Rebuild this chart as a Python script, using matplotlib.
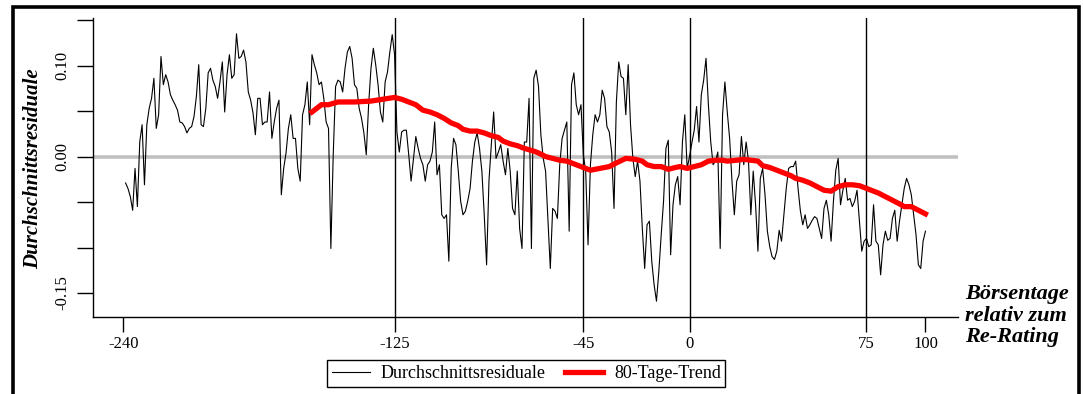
import numpy as np
import matplotlib
matplotlib.use("Agg")
import matplotlib.pyplot as plt
from matplotlib.patches import Rectangle

plt.rcParams['font.family'] = ['Liberation Serif', 'DejaVu Serif']

# Durchschnittsresiduale, ein Wert pro Börsentag (ab Tag -239)
start_day = -239
resid = [
    -0.029, -0.035, -0.044, -0.059, -0.013, -0.055, 0.016, 0.035, -0.031, 0.035,
    0.053, 0.064, 0.086, 0.031, 0.046, 0.110, 0.079, 0.090, 0.082, 0.068,
    0.062, 0.057, 0.051, 0.038, 0.037, 0.033, 0.026, 0.031, 0.033, 0.044,
    0.066, 0.101, 0.035, 0.033, 0.053, 0.092, 0.097, 0.084, 0.077, 0.064,
    0.082, 0.104, 0.049, 0.090, 0.112, 0.086, 0.090, 0.135, 0.108, 0.110,
    0.117, 0.104, 0.071, 0.062, 0.048, 0.024, 0.064, 0.064, 0.035, 0.038,
    0.038, 0.071, 0.020, 0.038, 0.053, 0.062, -0.042, -0.013, 0.004, 0.031,
    0.046, 0.020, 0.020, -0.013, -0.027, 0.046, 0.057, 0.082, 0.035, 0.112,
    0.101, 0.092, 0.079, 0.082,
    0.064, 0.038, 0.031, -0.101, 0.002, 0.077, 0.084, 0.082, 0.071, 0.097,
    0.115, 0.121, 0.108, 0.079, 0.075, 0.053, 0.042, 0.026, 0.002, 0.057,
    0.097, 0.119, 0.101, 0.079, 0.049, 0.038, 0.082, 0.093, 0.115, 0.134,
    0.112, 0.027, 0.005, 0.027, 0.029, 0.029, 0.002, -0.027, -0.002, 0.022,
    0.009, -0.002, -0.009,
    -0.027, -0.009, -0.005, 0.005, 0.038, -0.020, -0.009, -0.064, -0.068, -0.064,
    -0.115, -0.013, 0.020, 0.013, -0.016, -0.049, -0.064, -0.060, -0.049, -0.035,
    -0.005, 0.016, 0.026, 0.009, -0.016, -0.064, -0.119, -0.027, 0.013, 0.049,
    -0.002, 0.005, 0.013, -0.005, -0.020, 0.009, -0.016, -0.057, -0.064, -0.016,
    -0.079, -0.101, 0.016,
    0.016, 0.064, -0.101, 0.086, 0.095, 0.077, 0.024, -0.002, -0.016, -0.070,
    -0.123, -0.057, -0.060, -0.068, -0.009, 0.020, 0.029, 0.038, -0.082, 0.079,
    0.092, 0.057, 0.046, 0.057, 0.002, -0.016, -0.097, -0.009, 0.024, 0.046,
    0.038, 0.046, 0.073, 0.064, 0.033, 0.027, 0.005, -0.057, 0.060, 0.104,
    0.088, 0.086, 0.046,
    0.101, 0.035, -0.002, -0.022, -0.005, -0.027, -0.079, -0.123, -0.075, -0.071,
    -0.115, -0.141, -0.159, -0.126, -0.086, -0.049, 0.009, 0.018, -0.108, -0.053,
    -0.031, -0.022, -0.053, 0.016, 0.046, -0.013, 0.000, 0.015, 0.029, 0.055,
    0.016, 0.068, 0.084, 0.108, 0.057, 0.016, -0.009, -0.005, 0.005, -0.101,
    0.046, 0.082, 0.049,
    0.020, -0.027, -0.064, -0.027, -0.020, 0.022, -0.009, 0.016, -0.005, -0.064,
    -0.016, -0.053, -0.104, -0.024, -0.013, -0.042, -0.082, -0.099, -0.110, -0.113,
    -0.104, -0.081, -0.093, -0.064, -0.035, -0.013, -0.011, -0.011, -0.005, -0.035,
    -0.060, -0.075, -0.064, -0.079, -0.075, -0.070, -0.066, -0.068, -0.079, -0.090,
    -0.057, -0.048, -0.064, -0.093,
    -0.049, -0.015, -0.002, -0.053, -0.037, -0.024, -0.048, -0.046, -0.055, -0.049,
    -0.037, -0.071, -0.104, -0.093, -0.090, -0.099, -0.097, -0.053, -0.093, -0.097,
    -0.130, -0.097, -0.082, -0.092, -0.090, -0.068, -0.059, -0.093, -0.071, -0.053,
    -0.035, -0.024, -0.031, -0.042, -0.064, -0.086, -0.119, -0.123, -0.093, -0.082,
]
days = np.arange(start_day, start_day + len(resid))

# 80-Tage-Trend
trend_days = [-160, -156, -153, -149, -142, -135, -130, -125, -122, -119,
              -116, -113, -110, -107, -104, -101, -98, -96, -93, -90,
              -87, -84, -81, -79, -76, -73, -70, -66, -64, -61,
              -58, -55, -52, -50, -47, -44, -42, -38, -34, -31,
              -27, -23, -20, -18, -15, -12, -9, -6, -4, -1,
              2, 5, 8, 11, 14, 16, 20, 23, 26, 29,
              31, 34, 37, 40, 43, 45, 48, 51, 54, 57,
              60, 63, 66, 69, 72, 75, 77, 80, 83, 86,
              89, 91, 94, 97, 100]
trend_vals = [0.049, 0.057, 0.057, 0.060, 0.060, 0.061, 0.063, 0.065, 0.063, 0.060,
              0.057, 0.051, 0.049, 0.046, 0.042, 0.037, 0.034, 0.030, 0.028, 0.028,
              0.026, 0.023, 0.021, 0.017, 0.014, 0.012, 0.009, 0.006, 0.004, 0.000,
              -0.002, -0.004, -0.005, -0.007, -0.010, -0.013, -0.015, -0.013, -0.011, -0.007,
              -0.002, -0.003, -0.005, -0.009, -0.011, -0.011, -0.014, -0.012, -0.011, -0.013,
              -0.011, -0.009, -0.005, -0.004, -0.004, -0.005, -0.004, -0.003, -0.004, -0.005,
              -0.010, -0.012, -0.015, -0.018, -0.021, -0.024, -0.026, -0.029, -0.033, -0.037,
              -0.038, -0.033, -0.031, -0.031, -0.032, -0.035, -0.037, -0.040, -0.044, -0.048,
              -0.052, -0.055, -0.055, -0.059, -0.063]

x_ticks = [-240, -125, -45, 0, 75, 100]
event_days = [-125, -45, 0, 75]
y_ticks = [0.15, 0.10, 0.05, 0.00, -0.05, -0.10, -0.15]
y_labels = ['', '0.10', '', '0.00', '', '', '-0.15']

fig = plt.figure(figsize=(10.83, 3.94), dpi=100)
ax = fig.add_axes([0.0859, 0.1962, 0.7987, 0.7574])

ax.axhline(0, color='#c0c0c0', lw=2.6, zorder=1)
for d in event_days:
    ax.axvline(d, color='black', lw=1.0, zorder=2)
ax.plot(days, resid, color='black', lw=0.8, zorder=3, label='Durchschnittsresiduale')
ax.plot(trend_days, trend_vals, color='#ff0000', lw=3.8, zorder=4, label='80-Tage-Trend')

ax.set_xlim(-252.8, 113.8)
ax.set_ylim(-0.176, 0.152)

for s in ['top', 'right']:
    ax.spines[s].set_visible(False)
for s in ['left', 'bottom']:
    ax.spines[s].set_linewidth(1.0)

ax.set_xticks(x_ticks)
ax.set_xticklabels([str(t) for t in x_ticks], fontsize=12)
ax.set_yticks(y_ticks)
ax.set_yticklabels(y_labels, fontsize=12, rotation=90, va='center')
ax.tick_params(axis='x', direction='out', length=11, width=1.0, pad=3)
ax.tick_params(axis='y', direction='out', length=11.5, width=1.0, pad=5)

fig.text(0.0305, 0.571, 'Durchschnittsresiduale', rotation=90, ha='center', va='center',
         fontsize=15, fontweight='bold', fontstyle='italic')
fig.text(0.891, 0.198, 'Börsentage\nrelativ zum\nRe-Rating', ha='left', va='center',
         fontsize=16, fontweight='bold', fontstyle='italic', linespacing=1.1)

leg = fig.legend(loc='center', bbox_to_anchor=(0.486, 0.052), ncol=2, fontsize=13,
                 frameon=True, fancybox=False, edgecolor='black', framealpha=1,
                 handlelength=2.1, handletextpad=0.6, columnspacing=1.1,
                 borderpad=0.25)
leg.get_frame().set_linewidth(1.0)

# schwarzer Rahmen um die Grafik
fig.patches.append(Rectangle((0.0118, -0.05), 0.9843, 1.031, transform=fig.transFigure,
                             fill=False, edgecolor='black', lw=2.6, clip_on=False))

fig.savefig('out.png', dpi=100)
